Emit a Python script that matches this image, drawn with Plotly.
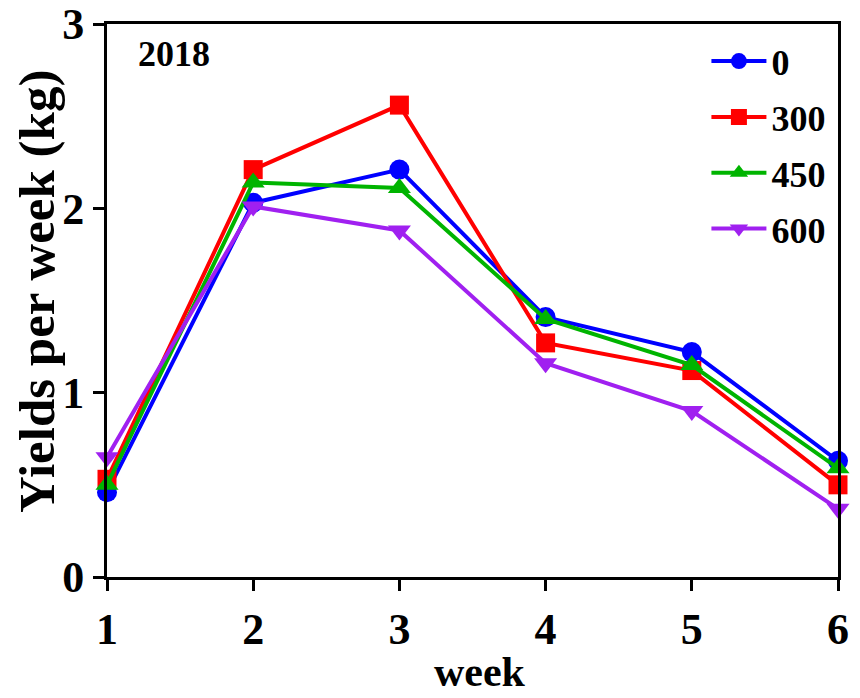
import plotly.graph_objects as go

weeks = [1, 2, 3, 4, 5, 6]
series_names = ["0", "300", "450", "600"]
y_0 = [0.46, 2.03, 2.21, 1.41, 1.22, 0.63]
y_300 = [0.53, 2.21, 2.56, 1.27, 1.12, 0.50]
y_450 = [0.50, 2.14, 2.11, 1.40, 1.15, 0.59]
y_600 = [0.65, 2.01, 1.88, 1.16, 0.90, 0.37]
x_ticks = [1, 2, 3, 4, 5, 6]
y_ticks = [0, 1, 2, 3]

colors = ["#0000FF", "#FF0000", "#00B400", "#A020F0"]
symbols = ["circle", "square", "triangle-up", "triangle-down"]
sizes = [20, 19, 20, 20]
data = [y_0, y_300, y_450, y_600]

FONT = "Liberation Serif, Times New Roman, serif"
L, R, T, B = 107, 22, 24, 121
PW = 860 - L - R
PH = 698 - T - B

fig = go.Figure()
for name, ys, c, s, sz in zip(series_names, data, colors, symbols, sizes):
    fig.add_trace(go.Scatter(
        x=weeks, y=ys, name="<b>" + name + "</b>", mode="lines+markers",
        line=dict(color=c, width=4),
        marker=dict(color=c, symbol=s, size=sz),
        legendgroup=name, cliponaxis=False,
    ))

fig.update_layout(
    width=860, height=698,
    margin=dict(l=L, r=R, t=T, b=B, autoexpand=False),
    paper_bgcolor="white", plot_bgcolor="white",
    font=dict(family=FONT, color="black"),
    showlegend=True,
    legend=dict(
        x=0.82, y=0.987, xanchor="left", yanchor="top",
        font=dict(family=FONT, size=36, color="black"),
        bgcolor="rgba(0,0,0,0)", tracegroupgap=6, itemwidth=55,
    ),
    xaxis=dict(
        range=[1, 6], tickvals=x_ticks, ticktext=["<b>%d</b>" % v for v in x_ticks],
        showline=True, linecolor="black", linewidth=3, mirror=True,
        ticks="outside", ticklen=11, tickwidth=3, tickcolor="black",
        showgrid=False, zeroline=False, automargin=False,
        ticklabeloverflow="allow",
        tickfont=dict(family=FONT, size=44, color="black"),
    ),
    yaxis=dict(
        range=[0, 3], tickvals=y_ticks, ticktext=["<b>%d</b>" % v for v in y_ticks],
        showline=True, linecolor="black", linewidth=3, mirror=True,
        ticks="outside", ticklen=11, tickwidth=3, tickcolor="black",
        showgrid=False, zeroline=False, automargin=False,
        ticklabeloverflow="allow",
        tickfont=dict(family=FONT, size=44, color="black"),
    ),
    annotations=[
        dict(
            text="<b>2018</b>", x=0.04, y=0.985, xref="paper", yref="paper",
            xanchor="left", yanchor="top", showarrow=False,
            font=dict(family=FONT, size=36, color="black"),
        ),
        dict(
            text="<b>Yields per week (kg)</b>", textangle=-90,
            x=(37 - L) / PW, y=(577 - 292) / PH, xref="paper", yref="paper",
            xanchor="center", yanchor="middle", showarrow=False,
            font=dict(family=FONT, size=51, color="black"),
        ),
        dict(
            text="<b>week</b>",
            x=(480 - L) / PW, y=(577 - 697) / PH, xref="paper", yref="paper",
            xanchor="center", yanchor="bottom", showarrow=False,
            font=dict(family=FONT, size=42, color="black"),
        ),
    ],
)

fig.write_html("out.html")
